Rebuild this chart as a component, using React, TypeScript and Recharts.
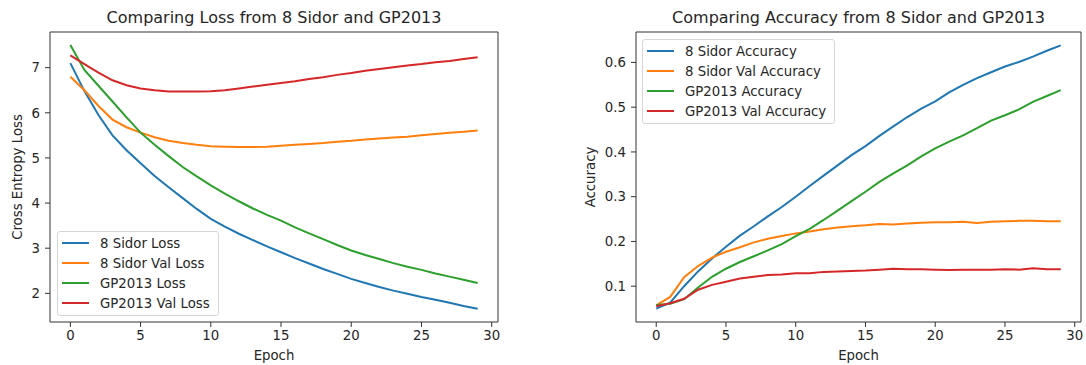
import React from 'react';
import { LineChart, Line, XAxis, YAxis, ReferenceLine, Legend } from 'recharts';

const epochs = [0, 1, 2, 3, 4, 5, 6, 7, 8, 9, 10, 11, 12, 13, 14, 15, 16, 17, 18, 19, 20, 21, 22, 23, 24, 25, 26, 27, 28, 29];

const sidorLoss = [7.1, 6.48, 5.95, 5.5, 5.17, 4.88, 4.6, 4.35, 4.11, 3.87, 3.65, 3.48, 3.32, 3.18, 3.04, 2.91, 2.78, 2.66, 2.54, 2.43, 2.32, 2.23, 2.14, 2.06, 1.99, 1.92, 1.86, 1.79, 1.72, 1.66];
const sidorValLoss = [6.8, 6.5, 6.15, 5.85, 5.68, 5.56, 5.46, 5.38, 5.33, 5.29, 5.26, 5.25, 5.24, 5.24, 5.25, 5.27, 5.29, 5.31, 5.33, 5.36, 5.38, 5.41, 5.43, 5.45, 5.47, 5.5, 5.53, 5.56, 5.58, 5.61];
const gpLoss = [7.5, 6.95, 6.6, 6.25, 5.9, 5.56, 5.29, 5.04, 4.8, 4.59, 4.39, 4.21, 4.04, 3.88, 3.74, 3.61, 3.46, 3.33, 3.2, 3.07, 2.95, 2.85, 2.76, 2.67, 2.59, 2.52, 2.44, 2.37, 2.3, 2.23];
const gpValLoss = [7.27, 7.08, 6.89, 6.72, 6.61, 6.54, 6.5, 6.47, 6.47, 6.47, 6.48, 6.5, 6.54, 6.58, 6.62, 6.66, 6.7, 6.75, 6.79, 6.84, 6.88, 6.93, 6.97, 7.01, 7.05, 7.08, 7.12, 7.15, 7.19, 7.23];

const sidorAcc = [0.05, 0.063, 0.1, 0.133, 0.162, 0.188, 0.213, 0.234, 0.256, 0.277, 0.3, 0.324, 0.347, 0.37, 0.393, 0.413, 0.436, 0.457, 0.478, 0.497, 0.513, 0.533, 0.55, 0.565, 0.578, 0.591, 0.601, 0.613, 0.626, 0.638];
const sidorValAcc = [0.057, 0.076, 0.12, 0.145, 0.164, 0.177, 0.187, 0.198, 0.206, 0.212, 0.218, 0.222, 0.227, 0.231, 0.234, 0.236, 0.239, 0.238, 0.24, 0.242, 0.243, 0.243, 0.244, 0.241, 0.244, 0.245, 0.246, 0.246, 0.245, 0.245];
const gpAcc = [0.058, 0.061, 0.071, 0.097, 0.121, 0.139, 0.154, 0.167, 0.18, 0.194, 0.212, 0.228, 0.248, 0.269, 0.29, 0.311, 0.333, 0.352, 0.37, 0.39, 0.408, 0.423, 0.437, 0.453, 0.47, 0.482, 0.495, 0.512, 0.525, 0.538];
const gpValAcc = [0.055, 0.062, 0.072, 0.092, 0.103, 0.11, 0.117, 0.121, 0.125, 0.126, 0.129, 0.129, 0.132, 0.133, 0.134, 0.135, 0.137, 0.139, 0.138, 0.138, 0.137, 0.136, 0.137, 0.137, 0.137, 0.138, 0.137, 0.14, 0.138, 0.138];

const xTicks = [0, 5, 10, 15, 20, 25, 30];
const lossTicks = [2, 3, 4, 5, 6, 7];
const accTicks = [0.1, 0.2, 0.3, 0.4, 0.5, 0.6];

const lossNames = ['8 Sidor Loss', '8 Sidor Val Loss', 'GP2013 Loss', 'GP2013 Val Loss'];
const accNames = ['8 Sidor Accuracy', '8 Sidor Val Accuracy', 'GP2013 Accuracy', 'GP2013 Val Accuracy'];
const COLORS = ['#1f77b4', '#ff7f0e', '#2ca02c', '#d62728'];

const FONT = '"DejaVu Sans", "Liberation Sans", sans-serif';
const TEXT = '#262626';
const SPINE = '#333333';

const lossData = epochs.map((e, i) => ({ epoch: e, s0: sidorLoss[i], s1: sidorValLoss[i], s2: gpLoss[i], s3: gpValLoss[i] }));
const accData = epochs.map((e, i) => ({ epoch: e, s0: sidorAcc[i], s1: sidorValAcc[i], s2: gpAcc[i], s3: gpValAcc[i] }));

const X_DOMAIN: [number, number] = [-1.45, 30.45];
const LOSS_DOMAIN: [number, number] = [1.365, 7.79];
const ACC_DOMAIN: [number, number] = [0.02, 0.668];

const makeLegend = (names: string[]) => (props: any) => {
  const payload: any[] = props.payload || [];
  const items = names.map((n) => payload.find((p) => p.value === n) || { value: n, color: '#000' });
  return (
    <div
      style={{
        border: '1px solid #d6d6d6',
        borderRadius: 3,
        background: 'rgba(255,255,255,0.8)',
        padding: '1px 8px 2px 0',
        fontFamily: FONT,
        fontSize: 13.3,
        color: TEXT,
        display: 'inline-block',
      }}
    >
      {items.map((it: any) => (
        <div key={it.value} style={{ height: 20, display: 'flex', alignItems: 'center', whiteSpace: 'nowrap' }}>
          <span style={{ display: 'inline-block', width: 27, height: 2, background: it.color, marginLeft: 4, marginRight: 11 }} />
          <span>{it.value}</span>
        </div>
      ))}
    </div>
  );
};

const xLabel = (text: string) => (props: any) => {
  const vb = props.viewBox || { x: 0, y: 0, width: 0, height: 0 };
  return (
    <text x={vb.x + vb.width / 2} y={vb.y + vb.height - 5} textAnchor="middle" fontFamily={FONT} fontSize={13.3} fill={TEXT}>
      {text}
    </text>
  );
};

const yLabel = (text: string, cx: number) => (props: any) => {
  const vb = props.viewBox || { x: 0, y: 0, width: 0, height: 0 };
  const x = vb.x + cx;
  const y = vb.y + vb.height / 2;
  return (
    <text x={x} y={y} transform={`rotate(-90, ${x}, ${y})`} textAnchor="middle" dominantBaseline="central" fontFamily={FONT} fontSize={13.3} fill={TEXT}>
      {text}
    </text>
  );
};

type PanelProps = {
  left: number;
  width: number;
  yAxisWidth: number;
  marginRight: number;
  data: any[];
  names: string[];
  yDomain: [number, number];
  yTicks: number[];
  yFormat?: (v: number) => string;
  title: string;
  yTitle: string;
  yTitleX: number;
  legendPos: { left: number; top: number };
};

function Panel(p: PanelProps) {
  const H = 365;
  const plotLeft = p.yAxisWidth;
  const plotRight = p.width - p.marginRight;
  return (
    <div style={{ position: 'absolute', left: p.left, top: 0, width: p.width, height: H }}>
      <div
        style={{
          position: 'absolute',
          left: plotLeft,
          width: plotRight - plotLeft,
          top: 10,
          textAlign: 'center',
          fontFamily: FONT,
          fontSize: 16,
          lineHeight: '16px',
          color: TEXT,
          whiteSpace: 'nowrap',
        }}
      >
        {p.title}
      </div>
      <LineChart width={p.width} height={H} data={p.data} margin={{ top: 32, right: p.marginRight, bottom: 0, left: 0 }}>
        <XAxis
          dataKey="epoch"
          type="number"
          domain={X_DOMAIN}
          ticks={xTicks}
          allowDataOverflow
          height={43}
          tickSize={5}
          tickMargin={4}
          stroke={SPINE}
          tick={{ fontFamily: FONT, fontSize: 13.3, fill: TEXT }}
          label={{ content: xLabel('Epoch') } as any}
        />
        <YAxis
          type="number"
          domain={p.yDomain}
          ticks={p.yTicks}
          allowDataOverflow
          width={p.yAxisWidth}
          tickSize={5}
          tickMargin={5}
          stroke={SPINE}
          tickFormatter={p.yFormat}
          tick={{ fontFamily: FONT, fontSize: 13.3, fill: TEXT }}
          label={{ content: yLabel(p.yTitle, p.yTitleX) } as any}
        />
        <ReferenceLine y={p.yDomain[1]} stroke={SPINE} strokeWidth={1} />
        <ReferenceLine x={X_DOMAIN[1]} stroke={SPINE} strokeWidth={1} />
        {p.names.map((n, i) => (
          <Line
            key={n}
            type="linear"
            dataKey={`s${i}`}
            name={n}
            stroke={COLORS[i]}
            strokeWidth={2}
            dot={false}
            activeDot={false}
            isAnimationActive={false}
          />
        ))}
        <Legend
          layout="vertical"
          align="center"
          verticalAlign="middle"
          content={makeLegend(p.names)}
          wrapperStyle={{ left: p.legendPos.left, top: p.legendPos.top, width: 'auto' }}
        />
      </LineChart>
    </div>
  );
}

export default function App() {
  return (
    <div style={{ position: 'absolute', left: 0, top: 0, width: 1086, height: 365, background: '#ffffff', overflow: 'hidden' }}>
      <Panel
        left={0}
        width={520}
        yAxisWidth={50}
        marginRight={22}
        data={lossData}
        names={lossNames}
        yDomain={LOSS_DOMAIN}
        yTicks={lossTicks}
        title="Comparing Loss from 8 Sidor and GP2013"
        yTitle="Cross Entropy Loss"
        yTitleX={17.5}
        legendPos={{ left: 57, top: 231 }}
      />
      <Panel
        left={560}
        width={526}
        yAxisWidth={76}
        marginRight={5}
        data={accData}
        names={accNames}
        yDomain={ACC_DOMAIN}
        yTicks={accTicks}
        yFormat={(v: number) => v.toFixed(1)}
        title="Comparing Accuracy from 8 Sidor and GP2013"
        yTitle="Accuracy"
        yTitleX={30}
        legendPos={{ left: 82, top: 39 }}
      />
    </div>
  );
}
